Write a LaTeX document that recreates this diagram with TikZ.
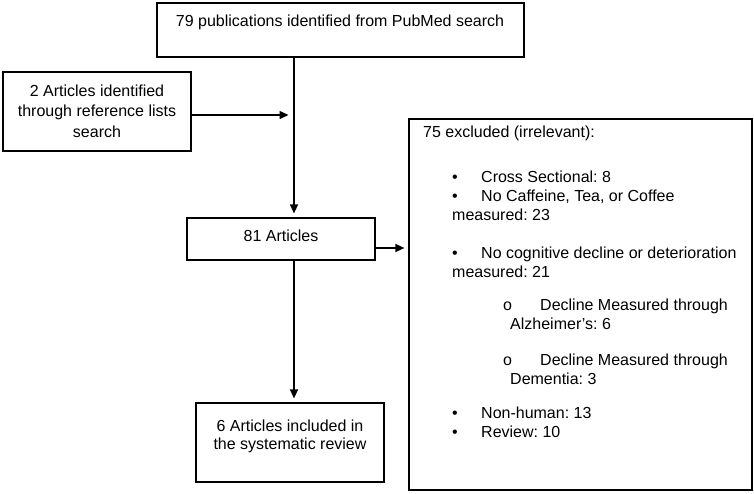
\documentclass[tikz,border=0pt]{standalone}
\usepackage{fontspec}
\setmainfont{Liberation Sans}
\usetikzlibrary{arrows.meta}
\frenchspacing
\begin{document}
\begin{tikzpicture}[x=1pt,y=1pt,
  box/.style={draw, line width=1.2pt, inner sep=0pt},
  txt/.style={inner sep=0pt, font=\fontsize{16}{19.5}\selectfont\frenchspacing},
  arr/.style={line width=1.4pt, -{Triangle[length=9pt,width=8pt]}}]
\useasboundingbox (0,0) rectangle (754,-493);
% boxes
\node[box, minimum width=367pt, minimum height=54pt] (top) at (340.5,-30) {};
\node[box, minimum width=188pt, minimum height=79pt] (left) at (97,-111.5) {};
\node[box, minimum width=188pt, minimum height=42pt] (mid) at (281,-239) {};
\node[box, minimum width=188pt, minimum height=79pt] (bot) at (290,-442.5) {};
\node[box, minimum width=343pt, minimum height=371pt] (excl) at (580.5,-304.5) {};
% texts
\node[txt, anchor=base] (ttop) at (340,-26) {79 publications identified from PubMed search};
\node[txt, anchor=base] (tl1) at (97,-96) {2 Articles identified};
\node[txt, anchor=base] (tl2) at (97,-116.5) {through reference lists};
\node[txt, anchor=base] (tl3) at (97,-137) {search};
\node[txt, anchor=base] (tmid) at (281,-241) {81 Articles};
\node[txt, anchor=base] (tb1) at (290,-431) {6 Articles included in};
\node[txt, anchor=base] (tb2) at (290,-449.5) {the systematic review};
% excluded list
\node[txt, anchor=base west] (e0) at (423,-137) {75 excluded (irrelevant):};
\node[txt, anchor=base west] (b1) at (452,-182) {•};
\node[txt, anchor=base west] (e1) at (481,-182) {Cross Sectional: 8};
\node[txt, anchor=base west] (b2) at (452,-201) {•};
\node[txt, anchor=base west] (e2) at (481,-201) {No Caffeine, Tea, or Coffee};
\node[txt, anchor=base west] (e2b) at (452,-220) {measured: 23};
\node[txt, anchor=base west] (b3) at (452,-258) {•};
\node[txt, anchor=base west] (e3) at (481,-258) {No cognitive decline or deterioration};
\node[txt, anchor=base west] (e3b) at (452,-277) {measured: 21};
\node[txt, anchor=base west] (s1) at (503,-310) {o};
\node[txt, anchor=base west] (e4) at (540,-310) {Decline Measured through};
\node[txt, anchor=base west] (e4b) at (510,-329) {Alzheimer’s: 6};
\node[txt, anchor=base west] (s2) at (503,-365) {o};
\node[txt, anchor=base west] (e5) at (540,-365) {Decline Measured through};
\node[txt, anchor=base west] (e5b) at (510,-384) {Dementia: 3};
\node[txt, anchor=base west] (b4) at (452,-418) {•};
\node[txt, anchor=base west] (e6) at (481,-418) {Non-human: 13};
\node[txt, anchor=base west] (b5) at (452,-437) {•};
\node[txt, anchor=base west] (e7) at (481,-437) {Review: 10};
% connectors
\coordinate (v) at (294,0);
\coordinate (j) at (294,-115);
\draw[arr, shorten >=4pt] (v |- top.south) -- (v |- mid.north);
\draw[arr, shorten >=5.5pt] (left.east |- j) -- (j);
\draw[arr, shorten >=4pt] (mid.east |- 0,-248) -- (excl.west |- 0,-248);
\draw[arr, shorten >=4pt] (v |- mid.south) -- (v |- bot.north);
\end{tikzpicture}
\end{document}
